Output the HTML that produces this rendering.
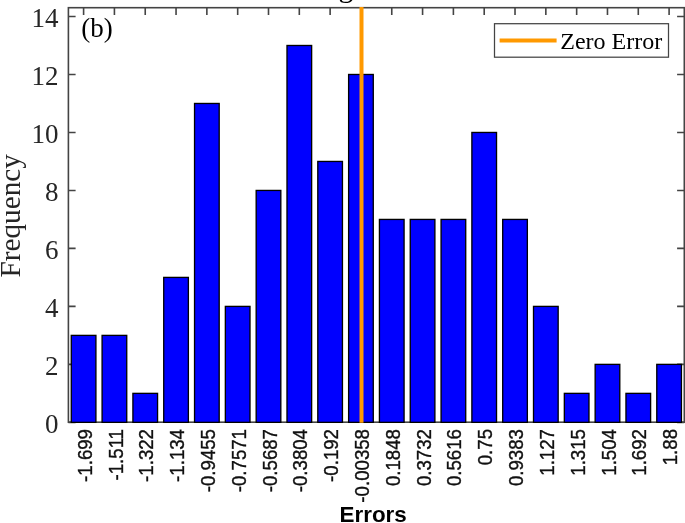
<!DOCTYPE html>
<html><head><meta charset="utf-8"><title>Error histogram</title>
<style>
html,body{margin:0;padding:0;background:#fff;}
body{width:685px;height:523px;overflow:hidden;}
svg{display:block;}
.ser{font-family:"Liberation Serif","Times New Roman",serif;}
.san{font-family:"Liberation Sans",Arial,sans-serif;}
</style></head><body>
<svg width="685" height="523" viewBox="0 0 685 523">
<rect width="685" height="523" fill="#fff"/>
<text class="ser" x="338.6" y="-3.1" font-size="29.7" fill="#000">g</text>
<rect x="68.4" y="7.7" width="615.9" height="414.5" fill="none" stroke="#444" stroke-width="1.6"/>
<path d="M83.60 7.7v7.2 M114.42 7.7v7.2 M145.23 7.7v7.2 M176.05 7.7v7.2 M206.86 7.7v7.2 M237.68 7.7v7.2 M268.50 7.7v7.2 M299.31 7.7v7.2 M330.13 7.7v7.2 M360.94 7.7v7.2 M391.76 7.7v7.2 M422.58 7.7v7.2 M453.39 7.7v7.2 M484.21 7.7v7.2 M515.02 7.7v7.2 M545.84 7.7v7.2 M576.66 7.7v7.2 M607.47 7.7v7.2 M638.29 7.7v7.2 M669.10 7.7v7.2 M68.4 422.35h7.2 M684.3 422.35h-7.2 M68.4 364.37h7.2 M684.3 364.37h-7.2 M68.4 306.39h7.2 M684.3 306.39h-7.2 M68.4 248.41h7.2 M684.3 248.41h-7.2 M68.4 190.43h7.2 M684.3 190.43h-7.2 M68.4 132.45h7.2 M684.3 132.45h-7.2 M68.4 74.47h7.2 M684.3 74.47h-7.2 M68.4 16.49h7.2 M684.3 16.49h-7.2" fill="none" stroke="#444" stroke-width="1.6"/>
<rect x="71.27" y="335.38" width="24.65" height="86.97" fill="#0000ff" stroke="#000" stroke-width="1.33"/>
<rect x="102.09" y="335.38" width="24.65" height="86.97" fill="#0000ff" stroke="#000" stroke-width="1.33"/>
<rect x="132.91" y="393.36" width="24.65" height="28.99" fill="#0000ff" stroke="#000" stroke-width="1.33"/>
<rect x="163.72" y="277.40" width="24.65" height="144.95" fill="#0000ff" stroke="#000" stroke-width="1.33"/>
<rect x="194.54" y="103.46" width="24.65" height="318.89" fill="#0000ff" stroke="#000" stroke-width="1.33"/>
<rect x="225.35" y="306.39" width="24.65" height="115.96" fill="#0000ff" stroke="#000" stroke-width="1.33"/>
<rect x="256.17" y="190.43" width="24.65" height="231.92" fill="#0000ff" stroke="#000" stroke-width="1.33"/>
<rect x="286.99" y="45.48" width="24.65" height="376.87" fill="#0000ff" stroke="#000" stroke-width="1.33"/>
<rect x="317.80" y="161.44" width="24.65" height="260.91" fill="#0000ff" stroke="#000" stroke-width="1.33"/>
<rect x="348.62" y="74.47" width="24.65" height="347.88" fill="#0000ff" stroke="#000" stroke-width="1.33"/>
<rect x="379.43" y="219.42" width="24.65" height="202.93" fill="#0000ff" stroke="#000" stroke-width="1.33"/>
<rect x="410.25" y="219.42" width="24.65" height="202.93" fill="#0000ff" stroke="#000" stroke-width="1.33"/>
<rect x="441.07" y="219.42" width="24.65" height="202.93" fill="#0000ff" stroke="#000" stroke-width="1.33"/>
<rect x="471.88" y="132.45" width="24.65" height="289.90" fill="#0000ff" stroke="#000" stroke-width="1.33"/>
<rect x="502.70" y="219.42" width="24.65" height="202.93" fill="#0000ff" stroke="#000" stroke-width="1.33"/>
<rect x="533.51" y="306.39" width="24.65" height="115.96" fill="#0000ff" stroke="#000" stroke-width="1.33"/>
<rect x="564.33" y="393.36" width="24.65" height="28.99" fill="#0000ff" stroke="#000" stroke-width="1.33"/>
<rect x="595.15" y="364.37" width="24.65" height="57.98" fill="#0000ff" stroke="#000" stroke-width="1.33"/>
<rect x="625.96" y="393.36" width="24.65" height="28.99" fill="#0000ff" stroke="#000" stroke-width="1.33"/>
<rect x="656.78" y="364.37" width="24.65" height="57.98" fill="#0000ff" stroke="#000" stroke-width="1.33"/>
<line x1="361.50" y1="6.9" x2="361.50" y2="422.7" stroke="#ff9900" stroke-width="4"/>
<text class="ser" x="58.6" y="433.05" font-size="27" text-anchor="end" fill="#262626">0</text>
<text class="ser" x="58.6" y="375.07" font-size="27" text-anchor="end" fill="#262626">2</text>
<text class="ser" x="58.6" y="317.09" font-size="27" text-anchor="end" fill="#262626">4</text>
<text class="ser" x="58.6" y="259.11" font-size="27" text-anchor="end" fill="#262626">6</text>
<text class="ser" x="58.6" y="201.13" font-size="27" text-anchor="end" fill="#262626">8</text>
<text class="ser" x="58.6" y="143.15" font-size="27" text-anchor="end" fill="#262626">10</text>
<text class="ser" x="58.6" y="85.17" font-size="27" text-anchor="end" fill="#262626">12</text>
<text class="ser" x="58.6" y="27.19" font-size="27" text-anchor="end" fill="#262626">14</text>
<text class="san" transform="translate(91.70 429.0) rotate(-90) scale(1 1.06)" font-size="18.67" text-anchor="end" fill="#111" stroke="#111" stroke-width="0.35">-1.699</text>
<text class="san" transform="translate(122.52 429.0) rotate(-90) scale(1 1.06)" font-size="18.67" text-anchor="end" fill="#111" stroke="#111" stroke-width="0.35">-1.511</text>
<text class="san" transform="translate(153.33 429.0) rotate(-90) scale(1 1.06)" font-size="18.67" text-anchor="end" fill="#111" stroke="#111" stroke-width="0.35">-1.322</text>
<text class="san" transform="translate(184.15 429.0) rotate(-90) scale(1 1.06)" font-size="18.67" text-anchor="end" fill="#111" stroke="#111" stroke-width="0.35">-1.134</text>
<text class="san" transform="translate(214.96 429.0) rotate(-90) scale(1 1.06)" font-size="18.67" text-anchor="end" fill="#111" stroke="#111" stroke-width="0.35">-0.9455</text>
<text class="san" transform="translate(245.78 429.0) rotate(-90) scale(1 1.06)" font-size="18.67" text-anchor="end" fill="#111" stroke="#111" stroke-width="0.35">-0.7571</text>
<text class="san" transform="translate(276.60 429.0) rotate(-90) scale(1 1.06)" font-size="18.67" text-anchor="end" fill="#111" stroke="#111" stroke-width="0.35">-0.5687</text>
<text class="san" transform="translate(307.41 429.0) rotate(-90) scale(1 1.06)" font-size="18.67" text-anchor="end" fill="#111" stroke="#111" stroke-width="0.35">-0.3804</text>
<text class="san" transform="translate(338.23 429.0) rotate(-90) scale(1 1.06)" font-size="18.67" text-anchor="end" fill="#111" stroke="#111" stroke-width="0.35">-0.192</text>
<text class="san" transform="translate(369.04 429.0) rotate(-90) scale(1 1.06)" font-size="18.67" text-anchor="end" fill="#111" stroke="#111" stroke-width="0.35">-0.00358</text>
<text class="san" transform="translate(399.86 429.0) rotate(-90) scale(1 1.06)" font-size="18.67" text-anchor="end" fill="#111" stroke="#111" stroke-width="0.35">0.1848</text>
<text class="san" transform="translate(430.68 429.0) rotate(-90) scale(1 1.06)" font-size="18.67" text-anchor="end" fill="#111" stroke="#111" stroke-width="0.35">0.3732</text>
<text class="san" transform="translate(461.49 429.0) rotate(-90) scale(1 1.06)" font-size="18.67" text-anchor="end" fill="#111" stroke="#111" stroke-width="0.35">0.5616</text>
<text class="san" transform="translate(492.31 429.0) rotate(-90) scale(1 1.06)" font-size="18.67" text-anchor="end" fill="#111" stroke="#111" stroke-width="0.35">0.75</text>
<text class="san" transform="translate(523.12 429.0) rotate(-90) scale(1 1.06)" font-size="18.67" text-anchor="end" fill="#111" stroke="#111" stroke-width="0.35">0.9383</text>
<text class="san" transform="translate(553.94 429.0) rotate(-90) scale(1 1.06)" font-size="18.67" text-anchor="end" fill="#111" stroke="#111" stroke-width="0.35">1.127</text>
<text class="san" transform="translate(584.76 429.0) rotate(-90) scale(1 1.06)" font-size="18.67" text-anchor="end" fill="#111" stroke="#111" stroke-width="0.35">1.315</text>
<text class="san" transform="translate(615.57 429.0) rotate(-90) scale(1 1.06)" font-size="18.67" text-anchor="end" fill="#111" stroke="#111" stroke-width="0.35">1.504</text>
<text class="san" transform="translate(646.39 429.0) rotate(-90) scale(1 1.06)" font-size="18.67" text-anchor="end" fill="#111" stroke="#111" stroke-width="0.35">1.692</text>
<text class="san" transform="translate(677.20 429.0) rotate(-90) scale(1 1.06)" font-size="18.67" text-anchor="end" fill="#111" stroke="#111" stroke-width="0.35">1.88</text>
<text class="ser" transform="translate(19.8 215.8) rotate(-90)" font-size="29.2" text-anchor="middle" fill="#262626">Frequency</text>
<text class="san" x="373.2" y="522" font-size="22.4" font-weight="bold" text-anchor="middle" fill="#000">Errors</text>
<text class="ser" x="81.2" y="37.1" font-size="27" fill="#000">(b)</text>
<rect x="494.5" y="23.7" width="174.0" height="33.5" fill="#fff" stroke="#444" stroke-width="1.25"/>
<line x1="499.6" y1="40.5" x2="556.6" y2="40.5" stroke="#ff9900" stroke-width="4"/>
<text class="ser" x="560.3" y="48.6" font-size="24" fill="#000">Zero Error</text>
</svg></body></html>
